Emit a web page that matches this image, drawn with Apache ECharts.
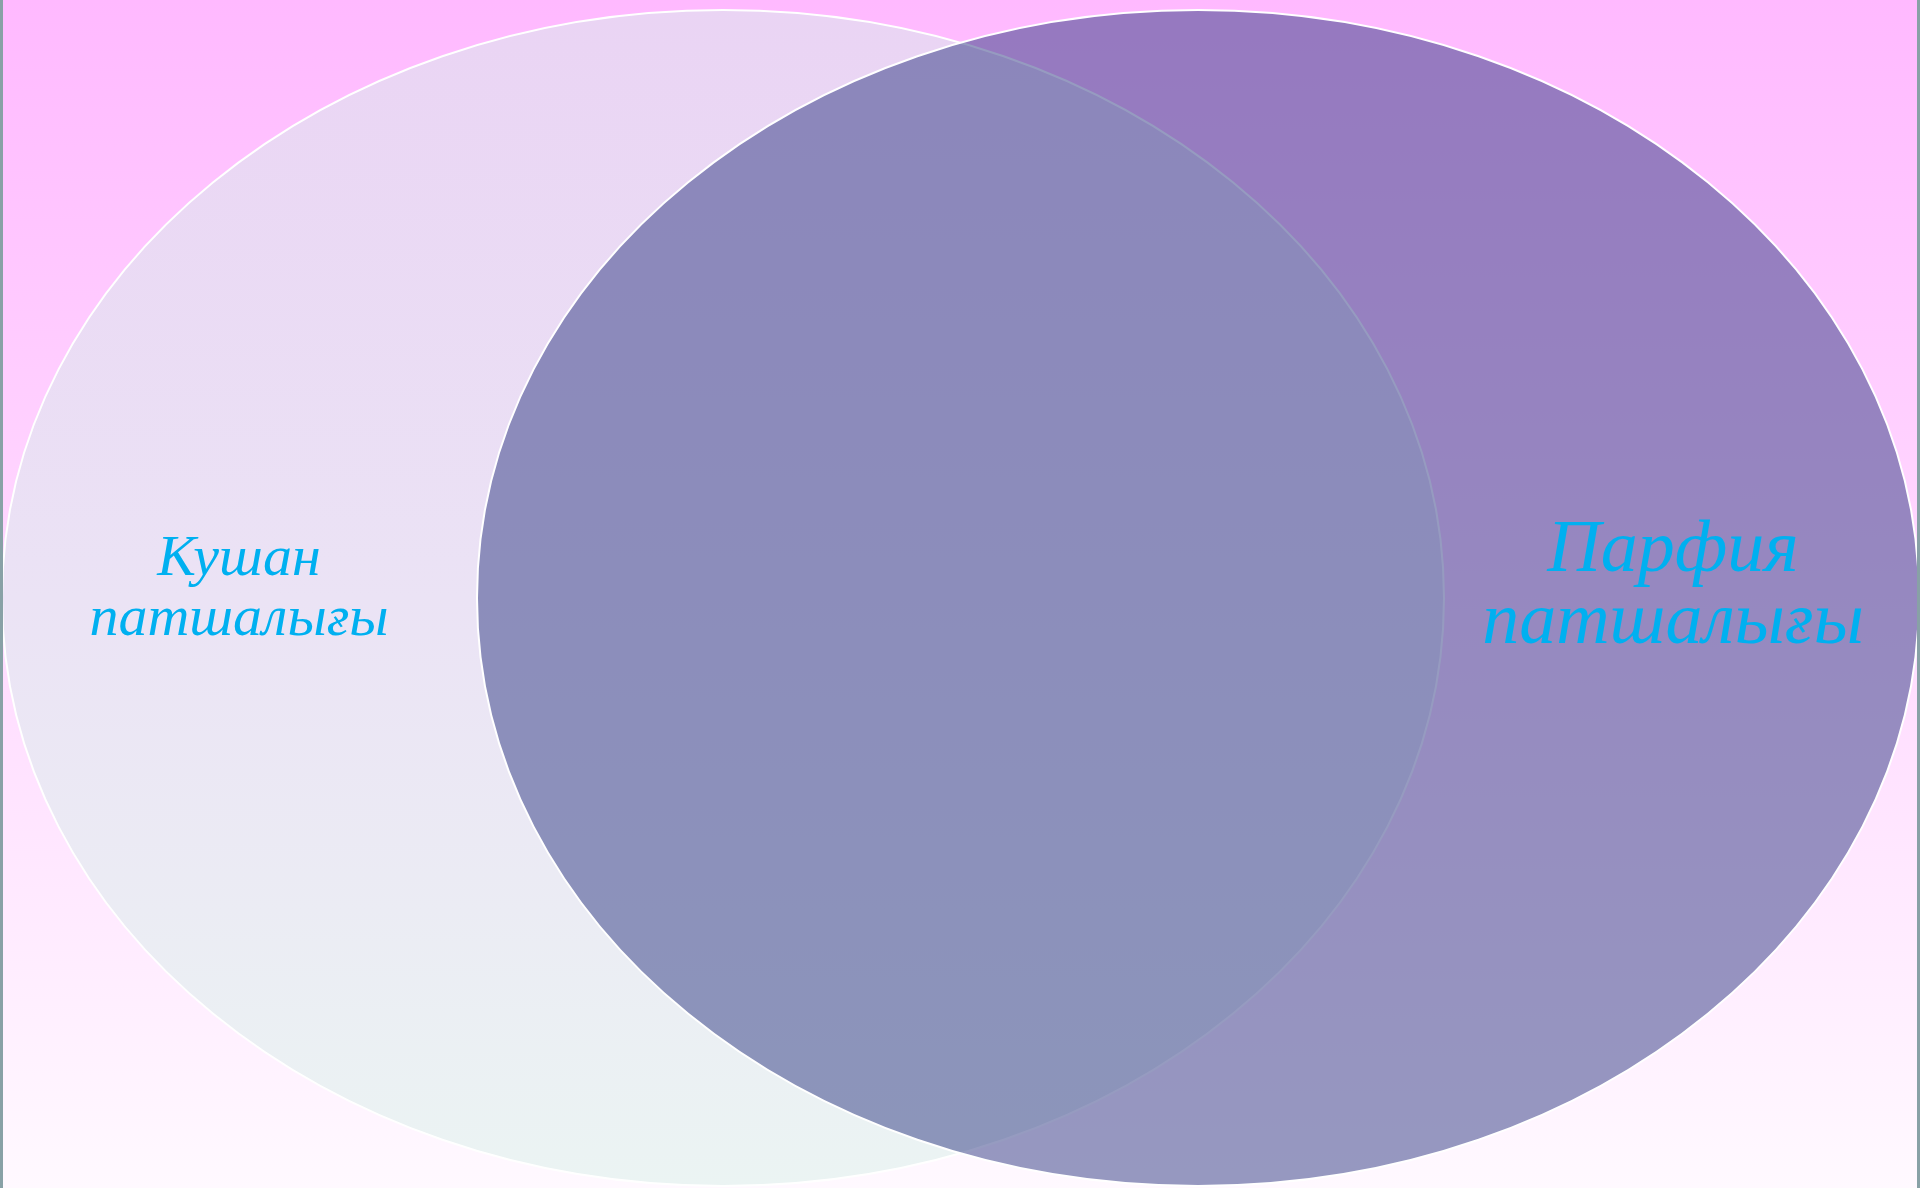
<!DOCTYPE html>
<html>
<head>
<meta charset="utf-8">
<title>Venn</title>
<script src="https://cdn.jsdelivr.net/npm/echarts@6/dist/echarts.min.js"></script>
<style>
    html, body {
        margin: 0;
        padding: 0;
        overflow: hidden;
    }
    #venn-chart {
        width: 1920px;
        height: 1188px;
    }
</style>
</head>
<body>
<div id="venn-chart"></div>
<script>
// two sets, drawn as ellipses on hidden value axes
const setNames = ['Кушан\nпатшалығы', 'Парфия\nпатшалығы'];
const centerX = [723, 1198];
const centerY = [598, 598];
const radiusX = [721, 721];
const radiusY = [588, 588];
// where each set's label sits (same axis units)
const labelX = [239, 1673];
const labelY = [590, 588];

const colors = ['#00B0F0', '#FFFFFF'];

let seriesData = setNames.map(function (name, i) {
    return [centerX[i], centerY[i], radiusX[i], radiusY[i], labelX[i], labelY[i], name];
});

let fills = [
    new echarts.graphic.LinearGradient(0, 0, 0, 1, [
        { offset: 0, color: '#EAD4F4' },
        { offset: 0.5, color: '#EBE3F5' },
        { offset: 1, color: '#EBF4F3' }
    ]),
    'rgba(46, 56, 130, 0.5)'
];
let fontSizes = [58, 74];
let lineHeights = [60, 72];

function renderSet(params, api) {
    let i = params.dataIndex;
    let c = api.coord([api.value(0), api.value(1)]);
    let s = api.size([api.value(2), api.value(3)]);
    let t = api.coord([api.value(4), api.value(5)]);
    return {
        type: 'group',
        children: [{
            type: 'ellipse',
            shape: { cx: c[0], cy: c[1], rx: Math.abs(s[0]), ry: Math.abs(s[1]) },
            style: { fill: fills[i], stroke: colors[1], lineWidth: 2 }
        }, {
            type: 'text',
            x: t[0],
            y: t[1],
            style: {
                text: setNames[i],
                fill: colors[0],
                font: 'italic ' + fontSizes[i] + 'px "Liberation Serif", "Times New Roman", serif',
                lineHeight: lineHeights[i],
                align: 'center',
                verticalAlign: 'middle'
            }
        }]
    };
}

let myChart = echarts.init(document.getElementById('venn-chart'));
myChart.setOption({
    animation: false,
    backgroundColor: {
        type: 'linear', x: 0, y: 0, x2: 0, y2: 1,
        colorStops: [
            { offset: 0, color: '#FFB9FF' },
            { offset: 1, color: '#FFF9FF' }
        ]
    },
    grid: { left: 0, right: 0, top: 0, bottom: 0 },
    xAxis: { type: 'value', min: 0, max: 1920, show: false },
    yAxis: { type: 'value', min: 0, max: 1188, inverse: true, show: false },
    series: [{
        type: 'custom',
        renderItem: renderSet,
        clip: false,
        data: seriesData
    }],
    // grey frame edges at the sides
    graphic: [
        { type: 'rect', left: 0, top: 0, z: 100, shape: { width: 3, height: 1188 }, style: { fill: '#88A1A6' } },
        { type: 'rect', right: 0, top: 0, z: 100, shape: { width: 3, height: 1188 }, style: { fill: '#88A1A6' } }
    ]
});
</script>
</body>
</html>
